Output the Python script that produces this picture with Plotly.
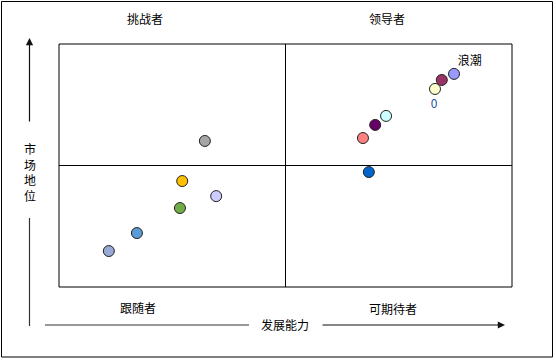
import plotly.graph_objects as go

# Data (x: 发展能力, y: 市场地位), 0-100 scale, midpoint 50
x_vals = [87.2, 84.5, 83.0, 72.2, 69.8, 67.1, 68.4, 32.2, 27.2, 34.7, 26.7, 17.2, 11.0]
y_vals = [87.7, 85.2, 81.5, 70.4, 66.7, 61.3, 47.3, 60.1, 43.6, 37.4, 32.5, 22.2, 14.8]
colors = ["#9999ff", "#993366", "#ffffcc", "#ccffff", "#660066", "#ff8080", "#0066cc",
          "#a6a6a6", "#ffc000", "#ccccff", "#70ad47", "#5b9bd5", "#98a9d6"]

zero_x = [82.8]
zero_y = [75.0]
zero_text = ["0"]

label_x = [90.7]
label_y = [92.6]
label_text = ["浪潮"]

quadrant_labels = ["挑战者", "领导者", "跟随者", "可期待者"]
x_title = "发展能力"
y_title = "市场地位"

FONT = "Noto Sans CJK SC"

fig = go.Figure()
fig.add_trace(go.Scatter(
    x=x_vals, y=y_vals, mode="markers",
    marker=dict(size=11, color=colors, line=dict(width=1, color="#222222")),
    hoverinfo="skip", showlegend=False))
fig.add_trace(go.Scatter(
    x=zero_x, y=zero_y, mode="text", text=zero_text,
    textfont=dict(family=FONT, size=12, color="#1f4e9e"),
    hoverinfo="skip", showlegend=False))
fig.add_trace(go.Scatter(
    x=label_x, y=label_y, mode="text", text=label_text,
    textfont=dict(family=FONT, size=12, color="#000000"),
    hoverinfo="skip", showlegend=False))

W, H = 556, 360
L, R, T, B = 59, 512, 44, 287


def px(xp):
    return (xp - L) / (R - L)


def py(yp):
    return (B - yp) / (B - T)


shapes = []
# outer border
shapes.append(dict(type="rect", xref="paper", yref="paper",
                   x0=px(1.5), x1=px(552.5), y0=py(357), y1=py(1.5),
                   line=dict(color="black", width=1)))
# inner rectangle
shapes.append(dict(type="rect", xref="paper", yref="paper",
                   x0=0, x1=1, y0=0, y1=1, line=dict(color="black", width=1)))
# quadrant lines
shapes.append(dict(type="line", xref="x", yref="paper", x0=50, x1=50, y0=0, y1=1,
                   line=dict(color="black", width=1)))
shapes.append(dict(type="line", xref="paper", yref="y", x0=0, x1=1, y0=50, y1=50,
                   line=dict(color="black", width=1)))
# y arrow lower segment
shapes.append(dict(type="line", xref="paper", yref="paper", x0=px(29.5), x1=px(29.5),
                   y0=py(218), y1=py(326), line=dict(color="#333333", width=1.2)))
# x arrow left segment
shapes.append(dict(type="line", xref="paper", yref="paper", x0=px(45), x1=px(249),
                   y0=py(325), y1=py(325), line=dict(color="#333333", width=1.2)))

annotations = []
qpos = [(145, 18), (387, 18), (138, 307), (393, 308)]
for t, (ax_, ay_) in zip(quadrant_labels, qpos):
    annotations.append(dict(text=t, xref="paper", yref="paper", x=px(ax_), y=py(ay_),
                            showarrow=False, font=dict(family=FONT, size=12, color="black"),
                            xanchor="center", yanchor="middle"))
annotations.append(dict(text=x_title, xref="paper", yref="paper", x=px(285), y=py(324),
                        showarrow=False, font=dict(family=FONT, size=12, color="black"),
                        xanchor="center", yanchor="middle"))
annotations.append(dict(text="<br>".join(list(y_title)), xref="paper", yref="paper",
                        x=px(29.5), y=py(172), showarrow=False,
                        font=dict(family=FONT, size=12, color="black"),
                        xanchor="center", yanchor="middle"))
# y arrow upper (with head)
annotations.append(dict(text="", xref="paper", yref="paper", x=px(29.5), y=py(38),
                        ax=0, ay=85, showarrow=True, arrowhead=2, arrowsize=1.2,
                        arrowwidth=1.2, arrowcolor="#111111", standoff=0))
# x arrow right (with head)
annotations.append(dict(text="", xref="paper", yref="paper", x=px(505), y=py(325),
                        ax=-184, ay=0, showarrow=True, arrowhead=2, arrowsize=1.2,
                        arrowwidth=1.2, arrowcolor="#111111", standoff=0))

fig.update_layout(
    width=W, height=H,
    margin=dict(l=L, r=W - R, t=T, b=H - B),
    paper_bgcolor="white", plot_bgcolor="white",
    xaxis=dict(range=[0, 100], visible=False, fixedrange=True),
    yaxis=dict(range=[0, 100], visible=False, fixedrange=True),
    shapes=shapes, annotations=annotations,
    font=dict(family=FONT),
)

fig.write_html("out.html",
               config={"displayModeBar": False},
               post_script="document.body.style.margin='0';document.body.style.overflow='hidden';")
